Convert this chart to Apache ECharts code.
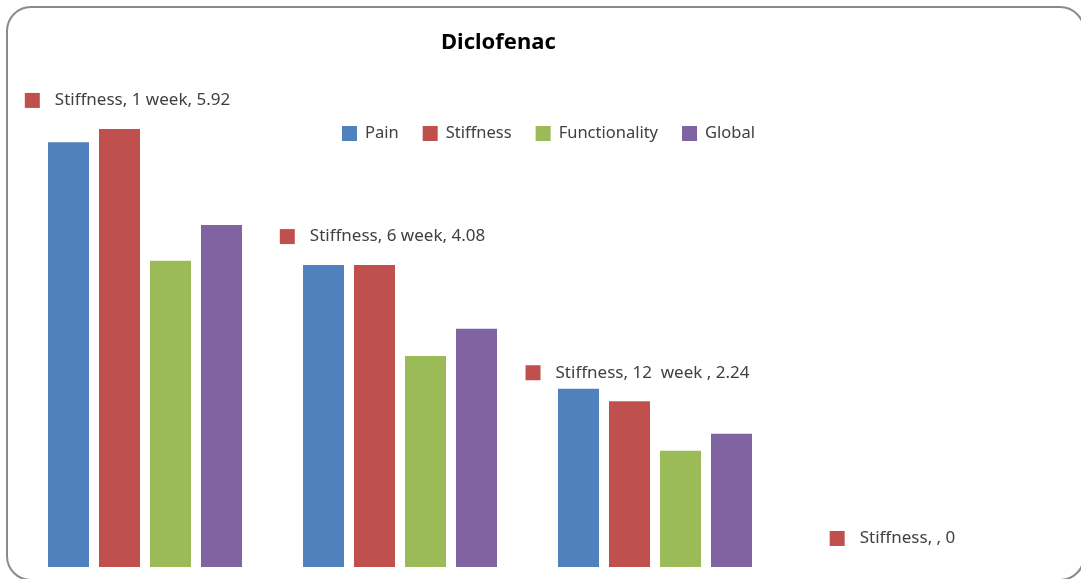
<!DOCTYPE html>
<html>
<head>
<meta charset="utf-8">
<script src="https://cdn.jsdelivr.net/npm/echarts@6/dist/echarts.min.js"></script>
<style>
  html, body { margin: 0; padding: 0; background: #fff; }
  #chart { width: 1081px; height: 579px; }
</style>
</head>
<body>
<div id="chart"></div>
<script>
// Diclofenac: mean scores per time point
const categories = ['1 week', '6 week', '12  week ', ''];
const seriesNames = ['Pain', 'Stiffness', 'Functionality', 'Global'];
const pain = [5.74, 4.08, 2.41, null];
const stiffness = [5.92, 4.08, 2.24, 0];
const functionality = [4.14, 2.85, 1.57, null];
const globalScore = [4.62, 3.22, 1.80, null];

const colors = ['#4F81BD', '#C0504D', '#9BBB59', '#8064A2'];
const values = [pain, stiffness, functionality, globalScore];
const FONT = 'Noto Sans';

const chart = echarts.init(document.getElementById('chart'), null, { renderer: 'canvas' });

const series = seriesNames.map((name, i) => {
  const s = {
    name: name,
    type: 'bar',
    data: values[i],
    barWidth: 41,
    barGap: '24.4%',
    itemStyle: { color: colors[i] },
    emphasis: { disabled: true },
    animation: false
  };
  if (name === 'Stiffness') {
    s.label = {
      show: true,
      position: 'top',
      distance: 20,
      offset: [8, 0],
      formatter: p => '{m|}{g|}{t|' + p.seriesName + ', ' + p.name + ', ' + p.value + '}',
      rich: {
        m: { width: 15, height: 15, backgroundColor: colors[1] },
        g: { width: 15 },
        t: { fontFamily: FONT, fontSize: 17, color: '#404040' }
      }
    };
  }
  return s;
});

chart.setOption({
  animation: false,
  color: colors,
  graphic: [{
    type: 'rect',
    shape: { x: 7, y: 7, width: 1077, height: 573, r: 24 },
    style: { fill: 'none', stroke: '#8a8a8a', lineWidth: 2 },
    silent: true,
    z: -1
  }],
  title: {
    text: 'Diclofenac',
    left: 441,
    top: 32,
    padding: 0,
    textStyle: { fontFamily: FONT, fontSize: 22, fontWeight: 'bold', color: '#000' }
  },
  legend: {
    data: seriesNames,
    left: 342,
    top: 125,
    padding: 0,
    itemWidth: 15,
    itemHeight: 15,
    itemGap: 24,
    icon: 'rect',
    textStyle: { fontFamily: FONT, fontSize: 16.5, color: '#404040', padding: [0, 0, 0, 3] }
  },
  grid: { left: 17.5, right: 43.5, top: 49, bottom: 12, containLabel: false },
  xAxis: {
    type: 'category',
    data: categories,
    show: false
  },
  yAxis: {
    type: 'value',
    min: 0,
    max: 7,
    show: false
  },
  series: series
});
</script>
</body>
</html>
